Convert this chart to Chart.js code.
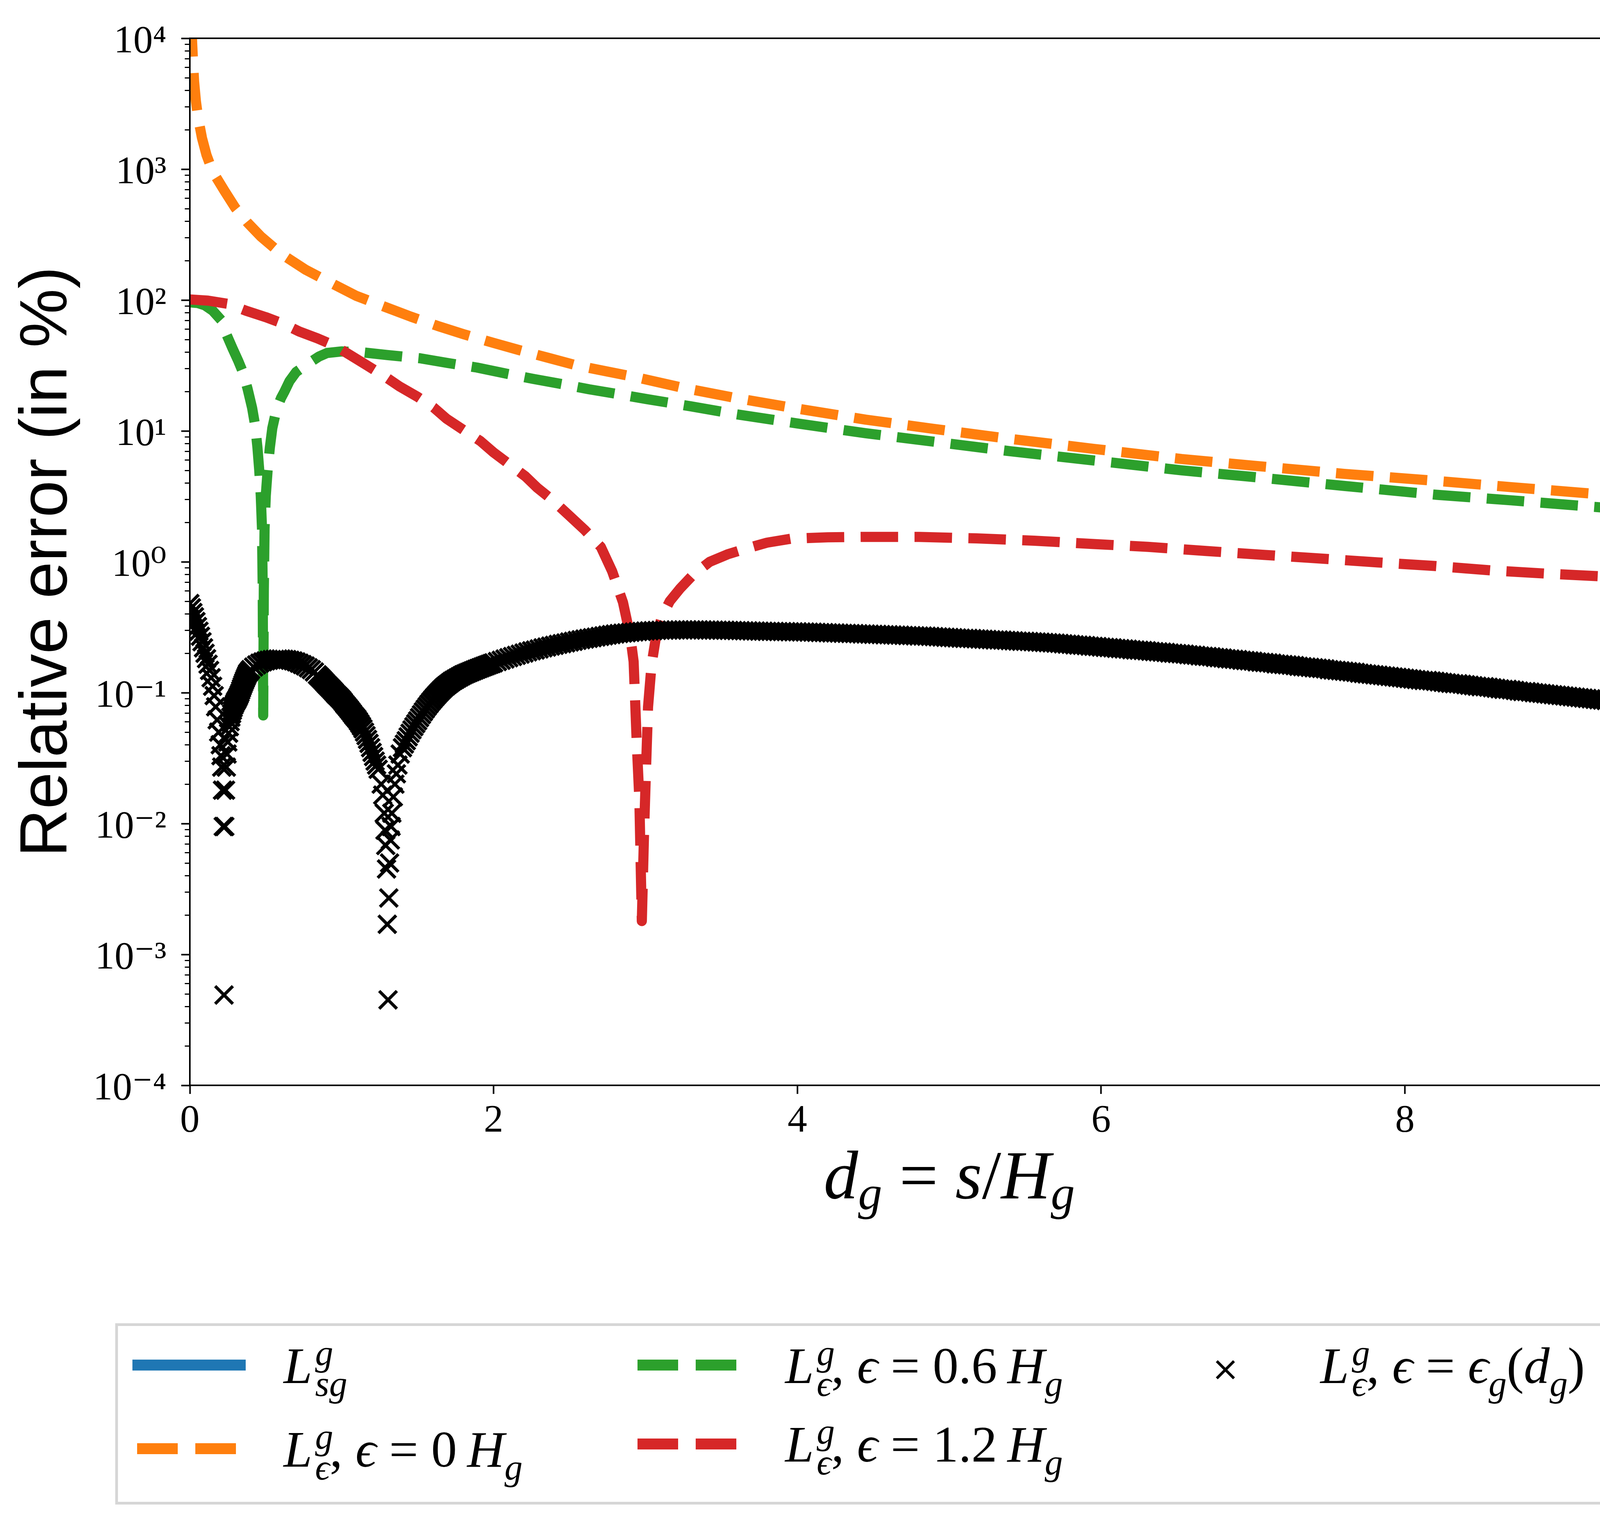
<!DOCTYPE html>
<html>
<head>
<meta charset="utf-8">
<script src="https://cdn.jsdelivr.net/npm/chart.js@4.4.1/dist/chart.umd.min.js"></script>
<style>
  html, body { margin: 0; padding: 0; background: #fff; }
  #wrap { position: relative; width: 4459px; height: 3888px; }
  #chart { position: absolute; left: 0; top: 0; }
  #legend { position: absolute; left: 295px; top: 3387px; width: 3863px; height: 464px;
            box-sizing: border-box; border: 7px solid #d6d6d6; background: #fff; }
  .handle { position: absolute; }
  .lab { position: absolute; white-space: nowrap; color: #000;
         font-family: "Liberation Serif", "DejaVu Serif", serif; font-size: 132px; line-height: 132px; }
  .lab i { font-style: italic; }
  .sp { position: relative; top: -0.5em; font-size: 0.7em; display: inline-block; width: 0; margin-left: 0.08em; }
  .sb { position: relative; top: 0.36em; font-size: 0.7em; }
</style>
</head>
<body>
<div id="wrap">
  <canvas id="chart" width="4459" height="3888"></canvas>
  <div id="legend"></div>
</div>
<script>
// 축 눈금
const xTickValues = [0, 2, 4, 6, 8, 10];
const xTickLabels = ['0', '2', '4', '6', '8', '10'];
const yTickValues = [1e-4, 1e-3, 1e-2, 1e-1, 1e0, 1e1, 1e2, 1e3, 1e4];
const yTickLabels = ['10⁻⁴', '10⁻³', '10⁻²', '10⁻¹', '10⁰', '10¹', '10²', '10³', '10⁴'];

// L_sg 자체 (오차 0이라 그래프에는 안 보임)
const sgX = [];
const sgY = [];

// eps = 0 H_g
const eps0X = [0.010, 0.015, 0.020, 0.028, 0.040, 0.055, 0.080, 0.11, 0.15, 0.229, 0.30, 0.38, 0.466, 0.60, 0.764, 0.93, 1.093, 1.27, 1.456, 1.63, 1.81, 2.0, 2.18, 2.36, 2.54, 2.73, 2.92, 3.25, 3.6, 4.0, 4.45, 4.89, 5.4, 5.95, 6.53, 7.0, 7.6, 8.21, 8.7, 9.3, 9.68, 10.0];
const eps0Y = [14000, 9300, 7000, 4680, 3300, 2450, 1730, 1280, 960, 680, 505, 390, 307, 226, 170, 135, 108, 90, 74.6, 63.5, 54.5, 47, 41.1, 36.2, 31.8, 28.7, 26.0, 21.3, 17.8, 14.8, 12.2, 10.4, 8.7, 7.3, 6.1, 5.43, 4.7, 4.15, 3.72, 3.27, 2.98, 2.83];

// eps = 0.6 H_g
const eps06X = [0.000, 0.050, 0.100, 0.150, 0.208, 0.240, 0.280, 0.320, 0.350, 0.380, 0.410, 0.430, 0.445, 0.457, 0.467, 0.475, 0.480, 0.483, 0.487, 0.492, 0.500, 0.512, 0.527, 0.543, 0.570, 0.600, 0.625, 0.656, 0.700, 0.777, 0.850, 0.903, 1.000, 1.140, 1.300, 1.515, 1.700, 1.890, 2.070, 2.260, 2.450, 2.630, 2.820, 3.010, 3.30, 3.60, 4.00, 4.45, 4.89, 5.40, 5.95, 6.53, 7.00, 7.60, 8.21, 8.70, 9.30, 9.78, 10.0];
const eps06Y = [96, 95, 91, 83, 70, 55, 43, 34, 28, 21, 15, 11, 7.5, 5.0, 3.2, 1.8, 0.6, 0.067, 0.6, 1.8, 3.2, 5.0, 7.5, 10.5, 14.5, 17.8, 20.2, 24.0, 28.2, 32.6, 37.0, 39.4, 40.5, 39.8, 38.0, 35.9, 33.0, 30.5, 27.6, 25.0, 22.8, 20.8, 19.1, 17.5, 15.4, 13.4, 11.4, 9.6, 8.3, 7.0, 5.95, 5.0, 4.45, 3.8, 3.25, 2.95, 2.6, 2.36, 2.28];

// eps = 1.2 H_g
const eps12X = [0.000, 0.12, 0.252, 0.368, 0.50, 0.615, 0.72, 0.84, 0.955, 1.06, 1.17, 1.285, 1.38, 1.50, 1.605, 1.69, 1.80, 1.914, 2.00, 2.10, 2.21, 2.287, 2.39, 2.49, 2.60, 2.706, 2.78, 2.852, 2.90, 2.922, 2.942, 2.96, 2.976, 2.99, 3.003, 3.017, 3.04, 3.07, 3.11, 3.16, 3.228, 3.32, 3.423, 3.54, 3.66, 3.80, 3.956, 4.2, 4.43, 4.80, 5.18, 5.56, 5.94, 6.31, 6.69, 7.07, 7.44, 7.82, 8.19, 8.57, 8.95, 9.33, 9.71, 10.0];
const eps12Y = [101, 99, 93.5, 83, 74, 66, 57.5, 51, 44.7, 37.7, 31.5, 26, 21.9, 18.2, 15.1, 12.4, 10.2, 8.35, 6.85, 5.6, 4.49, 3.68, 2.95, 2.3, 1.75, 1.3, 0.85, 0.49, 0.27, 0.173, 0.043, 0.015, 0.0018, 0.008, 0.025, 0.078, 0.164, 0.27, 0.385, 0.5, 0.625, 0.81, 1.0, 1.14, 1.26, 1.40, 1.50, 1.54, 1.55, 1.55, 1.51, 1.45, 1.37, 1.30, 1.21, 1.13, 1.06, 0.99, 0.93, 0.86, 0.81, 0.77, 0.72, 0.69];

// eps = eps_g(d_g), 'x' 마커 (촘촘하게 찍혀 굵은 띠처럼 보임)
const epsGX = [
  0.00, 0.01, 0.02, 0.03, 0.04, 0.05, 0.06, 0.07, 0.08, 0.09, 0.10, 0.11, 0.12, 0.13, 0.14, 0.15, 0.16, 0.17, 0.18, 0.19, 0.20,
  0.205, 0.21, 0.215, 0.22, 0.225, 0.23, 0.235, 0.24, 0.245, 0.25,
  0.255, 0.26, 0.265, 0.27, 0.275, 0.28, 0.285, 0.29, 0.295, 0.30, 0.305, 0.31, 0.315, 0.32, 0.325,
  0.33, 0.335, 0.34, 0.345, 0.35, 0.355, 0.36, 0.365, 0.37, 0.375, 0.38, 0.385, 0.39, 0.395, 0.40,
  0.42, 0.44, 0.46, 0.48, 0.50, 0.52, 0.54, 0.56, 0.58, 0.60, 0.62, 0.64, 0.66, 0.68, 0.70, 0.72, 0.74, 0.76, 0.78, 0.80, 0.82,
  0.84, 0.85, 0.86, 0.87, 0.88, 0.89, 0.90, 0.91, 0.92, 0.93, 0.94, 0.95, 0.96, 0.97, 0.98, 0.99, 1.00, 1.01, 1.02, 1.03, 1.04,
  1.05, 1.06, 1.07, 1.08, 1.09, 1.10, 1.11, 1.12, 1.13, 1.14, 1.15, 1.16, 1.17, 1.18, 1.19, 1.20, 1.21, 1.22, 1.23, 1.24,
  1.26, 1.27, 1.28, 1.285, 1.29, 1.295, 1.30, 1.305, 1.31, 1.315, 1.32, 1.325, 1.33, 1.34, 1.35, 1.36, 1.37, 1.385,
  1.4000, 1.4125, 1.4250, 1.4375, 1.4500, 1.4625, 1.4750, 1.4875, 1.5000, 1.5125, 1.5250, 1.5375, 1.5500,
  1.5625, 1.5750, 1.5875, 1.6000, 1.6125, 1.6250, 1.6375, 1.6500, 1.6625, 1.6750, 1.6875, 1.7000,
  1.7125, 1.7250, 1.7375, 1.7500, 1.7625, 1.7750, 1.7875, 1.8000, 1.8125, 1.8250, 1.8375, 1.8500,
  1.8625, 1.8750, 1.8875, 1.9000, 1.9125, 1.9250, 1.9375, 1.9500, 1.9625, 1.9750, 1.9875, 2.0000,
  2.025, 2.050, 2.075, 2.100, 2.125, 2.150, 2.175, 2.200, 2.225, 2.250,
  2.275, 2.300, 2.325, 2.350, 2.375, 2.400, 2.425, 2.450, 2.475, 2.500,
  2.525, 2.550, 2.575, 2.600, 2.625, 2.650, 2.675, 2.700, 2.725, 2.750,
  2.775, 2.800, 2.825, 2.850, 2.875, 2.900, 2.925, 2.950, 2.975, 3.000,
  3.025, 3.050, 3.075, 3.100, 3.125, 3.150, 3.175, 3.200, 3.225, 3.250,
  3.275, 3.300, 3.325, 3.350, 3.375, 3.400, 3.425, 3.450, 3.475, 3.500,
  3.525, 3.550, 3.575, 3.600, 3.625, 3.650, 3.675, 3.700, 3.725, 3.750,
  3.775, 3.800, 3.825, 3.850, 3.875, 3.900, 3.925, 3.950, 3.975, 4.000,
  4.025, 4.050, 4.075, 4.100, 4.125, 4.150, 4.175, 4.200, 4.225, 4.250,
  4.275, 4.300, 4.325, 4.350, 4.375, 4.400, 4.425, 4.450, 4.475, 4.500,
  4.525, 4.550, 4.575, 4.600, 4.625, 4.650, 4.675, 4.700, 4.725, 4.750,
  4.775, 4.800, 4.825, 4.850, 4.875, 4.900, 4.925, 4.950, 4.975, 5.000,
  5.025, 5.050, 5.075, 5.100, 5.125, 5.150, 5.175, 5.200, 5.225, 5.250,
  5.275, 5.300, 5.325, 5.350, 5.375, 5.400, 5.425, 5.450, 5.475, 5.500,
  5.525, 5.550, 5.575, 5.600, 5.625, 5.650, 5.675, 5.700, 5.725, 5.750,
  5.775, 5.800, 5.825, 5.850, 5.875, 5.900, 5.925, 5.950, 5.975, 6.000,
  6.025, 6.050, 6.075, 6.100, 6.125, 6.150, 6.175, 6.200, 6.225, 6.250,
  6.275, 6.300, 6.325, 6.350, 6.375, 6.400, 6.425, 6.450, 6.475, 6.500,
  6.525, 6.550, 6.575, 6.600, 6.625, 6.650, 6.675, 6.700, 6.725, 6.750,
  6.775, 6.800, 6.825, 6.850, 6.875, 6.900, 6.925, 6.950, 6.975, 7.000,
  7.025, 7.050, 7.075, 7.100, 7.125, 7.150, 7.175, 7.200, 7.225, 7.250,
  7.275, 7.300, 7.325, 7.350, 7.375, 7.400, 7.425, 7.450, 7.475, 7.500,
  7.525, 7.550, 7.575, 7.600, 7.625, 7.650, 7.675, 7.700, 7.725, 7.750,
  7.775, 7.800, 7.825, 7.850, 7.875, 7.900, 7.925, 7.950, 7.975, 8.000,
  8.025, 8.050, 8.075, 8.100, 8.125, 8.150, 8.175, 8.200, 8.225, 8.250,
  8.275, 8.300, 8.325, 8.350, 8.375, 8.400, 8.425, 8.450, 8.475, 8.500,
  8.525, 8.550, 8.575, 8.600, 8.625, 8.650, 8.675, 8.700, 8.725, 8.750,
  8.775, 8.800, 8.825, 8.850, 8.875, 8.900, 8.925, 8.950, 8.975, 9.000,
  9.025, 9.050, 9.075, 9.100, 9.125, 9.150, 9.175, 9.200, 9.225, 9.250,
  9.275, 9.300, 9.325, 9.350, 9.375, 9.400, 9.425, 9.450, 9.475, 9.500,
  9.525, 9.550, 9.575, 9.600, 9.625, 9.650, 9.675, 9.700, 9.725, 9.750,
  9.775, 9.800, 9.825, 9.850, 9.875, 9.900, 9.925, 9.950, 9.975, 10.000
];
const epsGY = [
  0.48, 0.445, 0.41, 0.38, 0.35, 0.32, 0.295, 0.27, 0.245, 0.22, 0.20, 0.182, 0.165, 0.148, 0.13, 0.112, 0.095, 0.078, 0.062, 0.05, 0.04,
  0.033, 0.027, 0.018, 0.0095, 0.00049, 0.0095, 0.018, 0.027, 0.034, 0.042,
  0.049, 0.055, 0.060, 0.065, 0.069, 0.073, 0.0765, 0.080, 0.0825, 0.085, 0.087, 0.089, 0.0915, 0.094, 0.097,
  0.100, 0.104, 0.108, 0.112, 0.116, 0.120, 0.124, 0.128, 0.132, 0.136, 0.140, 0.1425, 0.145, 0.1475, 0.150,
  0.157, 0.163, 0.168, 0.172, 0.175, 0.177, 0.179, 0.180, 0.181, 0.181, 0.180, 0.179, 0.177, 0.175, 0.172, 0.168, 0.164, 0.160, 0.155, 0.150, 0.144,
  0.137, 0.1335, 0.130, 0.1265, 0.123, 0.1195, 0.116, 0.113, 0.110, 0.107, 0.104, 0.101, 0.098, 0.0955, 0.093, 0.0905, 0.088, 0.085, 0.082, 0.0795, 0.077,
  0.0745, 0.072, 0.0695, 0.067, 0.065, 0.063, 0.0605, 0.058, 0.0555, 0.053, 0.050, 0.047, 0.044, 0.041, 0.038, 0.035, 0.0325, 0.030, 0.028, 0.026,
  0.020, 0.0165, 0.012, 0.0089, 0.0068, 0.0045, 0.0017, 0.00045, 0.0027, 0.005, 0.0075, 0.0095, 0.012, 0.016, 0.020, 0.024, 0.028, 0.034,
  0.038, 0.0405, 0.043, 0.046, 0.049, 0.052, 0.055, 0.058, 0.061, 0.0645, 0.068, 0.0715, 0.075,
  0.0785, 0.082, 0.0855, 0.089, 0.0925, 0.096, 0.0995, 0.103, 0.1065, 0.110, 0.113, 0.116,
  0.119, 0.122, 0.1245, 0.127, 0.1295, 0.132, 0.1345, 0.137, 0.139, 0.141, 0.143, 0.145,
  0.147, 0.149, 0.151, 0.153, 0.155, 0.157, 0.159, 0.161, 0.163, 0.165, 0.167, 0.169,
  0.173, 0.177, 0.181, 0.185, 0.189, 0.193, 0.197, 0.201, 0.205, 0.209,
  0.212, 0.216, 0.220, 0.223, 0.227, 0.230, 0.234, 0.237, 0.240, 0.244,
  0.247, 0.251, 0.254, 0.257, 0.260, 0.263, 0.266, 0.269, 0.272, 0.275,
  0.278, 0.281, 0.283, 0.285, 0.287, 0.289, 0.291, 0.293, 0.294, 0.296,
  0.297, 0.298, 0.299, 0.300, 0.300, 0.301, 0.301, 0.302, 0.302, 0.302,
  0.302, 0.302, 0.302, 0.302, 0.302, 0.301, 0.301, 0.301, 0.300, 0.300,
  0.300, 0.299, 0.299, 0.298, 0.298, 0.297, 0.297, 0.296, 0.296, 0.295,
  0.295, 0.294, 0.294, 0.294, 0.293, 0.293, 0.293, 0.292, 0.292, 0.292,
  0.291, 0.291, 0.290, 0.290, 0.289, 0.288, 0.288, 0.287, 0.286, 0.286,
  0.285, 0.284, 0.284, 0.283, 0.283, 0.282, 0.281, 0.281, 0.280, 0.279,
  0.279, 0.278, 0.277, 0.277, 0.276, 0.275, 0.275, 0.274, 0.273, 0.273,
  0.272, 0.271, 0.271, 0.270, 0.269, 0.268, 0.267, 0.266, 0.265, 0.264,
  0.263, 0.262, 0.261, 0.260, 0.260, 0.259, 0.258, 0.257, 0.256, 0.255,
  0.254, 0.253, 0.253, 0.252, 0.251, 0.250, 0.249, 0.248, 0.247, 0.247,
  0.246, 0.245, 0.244, 0.243, 0.242, 0.241, 0.240, 0.239, 0.238, 0.236,
  0.235, 0.234, 0.232, 0.231, 0.230, 0.229, 0.227, 0.226, 0.225, 0.223,
  0.222, 0.221, 0.220, 0.218, 0.217, 0.216, 0.215, 0.213, 0.212, 0.211,
  0.210, 0.209, 0.207, 0.206, 0.205, 0.204, 0.203, 0.201, 0.200, 0.199,
  0.198, 0.197, 0.195, 0.194, 0.193, 0.191, 0.190, 0.189, 0.188, 0.186,
  0.185, 0.184, 0.182, 0.181, 0.180, 0.179, 0.177, 0.176, 0.175, 0.174,
  0.172, 0.171, 0.170, 0.169, 0.168, 0.166, 0.165, 0.164, 0.163, 0.162,
  0.161, 0.159, 0.158, 0.157, 0.156, 0.155, 0.154, 0.153, 0.152, 0.150,
  0.149, 0.148, 0.147, 0.146, 0.145, 0.144, 0.143, 0.141, 0.140, 0.139,
  0.138, 0.137, 0.136, 0.135, 0.134, 0.133, 0.132, 0.131, 0.130, 0.129,
  0.128, 0.127, 0.126, 0.125, 0.124, 0.124, 0.123, 0.122, 0.121, 0.120,
  0.119, 0.118, 0.117, 0.117, 0.116, 0.115, 0.114, 0.113, 0.112, 0.111,
  0.111, 0.110, 0.109, 0.108, 0.107, 0.106, 0.106, 0.105, 0.104, 0.103,
  0.102, 0.102, 0.101, 0.100, 0.0994, 0.0987, 0.0980, 0.0972, 0.0965, 0.0958,
  0.0951, 0.0944, 0.0937, 0.0930, 0.0924, 0.0917, 0.0910, 0.0904, 0.0897, 0.0890,
  0.0884, 0.0877, 0.0871, 0.0865, 0.0858, 0.0852, 0.0846, 0.0840, 0.0834, 0.0828,
  0.0822, 0.0816, 0.0810, 0.0804, 0.0798, 0.0792, 0.0786, 0.0780, 0.0775, 0.0769,
  0.0763, 0.0758, 0.0752, 0.0747, 0.0741, 0.0736, 0.0731, 0.0725, 0.0720, 0.0715
];

// 범례 라벨 (수식 형태)
const legendLabels = [
  '<i>L</i><span class="sp"><i>g</i></span><span class="sb"><i>sg</i></span>',
  '<i>L</i><span class="sp"><i>g</i></span><span class="sb"><i>ϵ</i></span>, <i>ϵ</i> = 0\u2009<i>H</i><span class="sb"><i>g</i></span>',
  '<i>L</i><span class="sp"><i>g</i></span><span class="sb"><i>ϵ</i></span>, <i>ϵ</i> = 0.6\u2009<i>H</i><span class="sb"><i>g</i></span>',
  '<i>L</i><span class="sp"><i>g</i></span><span class="sb"><i>ϵ</i></span>, <i>ϵ</i> = 1.2\u2009<i>H</i><span class="sb"><i>g</i></span>',
  '<i>L</i><span class="sp"><i>g</i></span><span class="sb"><i>ϵ</i></span>, <i>ϵ</i> = <i>ϵ</i><span class="sb"><i>g</i></span>(<i>d</i><span class="sb"><i>g</i></span>)'
];
const legendSlots = [
  { hx: 37, hy: 100, tx: 424, ty: 147 },
  { hx: 37, hy: 314, tx: 424, ty: 361 },
  { hx: 1318, hy: 100, tx: 1708, ty: 147 },
  { hx: 1318, hy: 302, tx: 1708, ty: 348 },
  { hx: 2690, hy: 112, tx: 3078, ty: 147 }
];

// x축 제목 d_g = s/H_g
const xTitleParts = [
  { text: 'd', italic: true, sub: false },
  { text: 'g', italic: true, sub: true },
  { text: ' = ', italic: false, sub: false },
  { text: 's', italic: true, sub: false },
  { text: '/', italic: false, sub: false },
  { text: 'H', italic: true, sub: false },
  { text: 'g', italic: true, sub: true }
];

function toPoints(xs, ys) {
  return xs.map((x, i) => ({ x: x, y: ys[i] }));
}

function lineSet(label, xs, ys, color, dashed, order) {
  return {
    label: label,
    data: toPoints(xs, ys),
    borderColor: color,
    backgroundColor: color,
    borderWidth: 26,
    borderDash: dashed ? [96, 42] : [],
    borderCapStyle: 'butt',
    borderJoinStyle: 'round',
    pointRadius: 0,
    tension: 0,
    fill: false,
    clip: 0,
    order: order
  };
}

// 그래프 테두리
const framePlugin = {
  id: 'frame',
  afterDatasetsDraw(chart) {
    const { ctx, chartArea: a } = chart;
    ctx.save();
    ctx.strokeStyle = '#000';
    ctx.lineWidth = 4;
    ctx.strokeRect(a.left, a.top, a.right - a.left, a.bottom - a.top);
    ctx.restore();
  }
};

// 로그축 보조 눈금
const minorTicksPlugin = {
  id: 'minorTicks',
  afterDraw(chart) {
    const { ctx, chartArea: a } = chart;
    const y = chart.scales.y;
    ctx.save();
    ctx.strokeStyle = '#000';
    ctx.lineWidth = 3;
    ctx.beginPath();
    for (let k = -4; k < 4; k++) {
      for (let m = 2; m <= 9; m++) {
        const py = Math.round(y.getPixelForValue(m * Math.pow(10, k))) + 0.5;
        ctx.moveTo(a.left - 13, py);
        ctx.lineTo(a.left, py);
      }
    }
    ctx.stroke();
    ctx.restore();
  }
};

// x축 제목 (아래첨자 포함)
const xTitlePlugin = {
  id: 'xTitle',
  afterDraw(chart) {
    const { ctx, chartArea: a } = chart;
    const big = 176, small = 123, baseY = 3067, subDrop = 28;
    const fontOf = p => (p.italic ? 'italic ' : '') + (p.sub ? small : big) + 'px "Liberation Serif", "DejaVu Serif", serif';
    ctx.save();
    ctx.fillStyle = '#000';
    ctx.textBaseline = 'alphabetic';
    let total = 0;
    xTitleParts.forEach(p => { ctx.font = fontOf(p); total += ctx.measureText(p.text).width; });
    let x = (a.left + a.right) / 2 - total / 2;
    xTitleParts.forEach(p => {
      ctx.font = fontOf(p);
      ctx.fillText(p.text, x, baseY + (p.sub ? subDrop : 0));
      x += ctx.measureText(p.text).width;
    });
    ctx.restore();
  }
};

function buildLegend(chart) {
  const box = document.getElementById('legend');
  chart.data.datasets.forEach((ds, i) => {
    const s = legendSlots[i];
    const h = document.createElement('div');
    h.className = 'handle';
    if (ds.showLine === false) {
      h.innerHTML = '<svg width="50" height="50" viewBox="0 0 50 50"><path d="M3 3L47 47M47 3L3 47" stroke="#000" stroke-width="7"/></svg>';
      h.style.left = (s.hx + 145 - 25) + 'px';
      h.style.top = (s.hy - 25) + 'px';
    } else {
      const c = ds.borderColor;
      h.style.left = s.hx + 'px';
      h.style.top = (s.hy - 14) + 'px';
      h.style.width = '290px';
      h.style.height = '28px';
      if (ds.borderDash.length) {
        h.style.background = 'linear-gradient(to right, transparent 0 12px, ' + c + ' 12px 116px, transparent 116px 161px, ' +
          c + ' 161px 265px, transparent 265px)';
      } else {
        h.style.background = c;
      }
    }
    box.appendChild(h);
    const t = document.createElement('div');
    t.className = 'lab';
    t.innerHTML = legendLabels[i];
    t.style.left = s.tx + 'px';
    t.style.top = (s.ty - 111) + 'px';
    box.appendChild(t);
  });
}

Chart.defaults.color = '#000';
Chart.defaults.font.family = '"Liberation Serif", "DejaVu Serif", serif';

const chart = new Chart(document.getElementById('chart').getContext('2d'), {
  type: 'line',
  data: {
    datasets: [
      lineSet('L_sg', sgX, sgY, '#1f77b4', false, 4),
      lineSet('eps = 0 H_g', eps0X, eps0Y, '#ff7f0e', true, 3),
      lineSet('eps = 0.6 H_g', eps06X, eps06Y, '#2ca02c', true, 2),
      lineSet('eps = 1.2 H_g', eps12X, eps12Y, '#d62728', true, 1),
      {
        label: 'eps = eps_g(d_g)',
        data: toPoints(epsGX, epsGY),
        showLine: false,
        pointStyle: 'crossRot',
        pointRadius: 32,
        pointHoverRadius: 32,
        pointBorderWidth: 8,
        pointBorderColor: '#000',
        pointBackgroundColor: 'rgba(0,0,0,0)',
        borderColor: '#000',
        borderDash: [],
        clip: 0,
        order: 0
      }
    ]
  },
  options: {
    responsive: false,
    animation: false,
    devicePixelRatio: 1,
    layout: { padding: { left: 0, right: 85, top: 85, bottom: 0 } },
    plugins: { legend: { display: false }, tooltip: { enabled: false } },
    scales: {
      x: {
        type: 'linear',
        min: 0,
        max: 10,
        afterBuildTicks: s => { s.ticks = xTickValues.map(v => ({ value: v })); },
        afterFit: s => { s.height = 1110; },
        border: { display: false },
        grid: { display: true, drawOnChartArea: false, drawTicks: true, tickLength: 22, tickWidth: 4, tickColor: '#000' },
        ticks: {
          padding: 10,
          maxRotation: 0,
          font: { size: 100 },
          callback: (v, i) => xTickLabels[i]
        }
      },
      y: {
        type: 'logarithmic',
        min: 1e-4,
        max: 1e4,
        afterBuildTicks: s => { s.ticks = yTickValues.map(v => ({ value: v })); },
        afterFit: s => { s.width = 486; },
        border: { display: false },
        grid: { display: true, drawOnChartArea: false, drawTicks: true, tickLength: 22, tickWidth: 4, tickColor: '#000' },
        ticks: {
          padding: 38,
          labelOffset: 10,
          font: { size: 100 },
          callback: (v, i) => yTickLabels[i]
        },
        title: {
          display: true,
          text: 'Relative error (in %)',
          padding: { top: 21, bottom: 0 },
          font: { family: '"Liberation Sans", Arial, sans-serif', size: 170 }
        }
      }
    }
  },
  plugins: [framePlugin, minorTicksPlugin, xTitlePlugin]
});

buildLegend(chart);
</script>
</body>
</html>
